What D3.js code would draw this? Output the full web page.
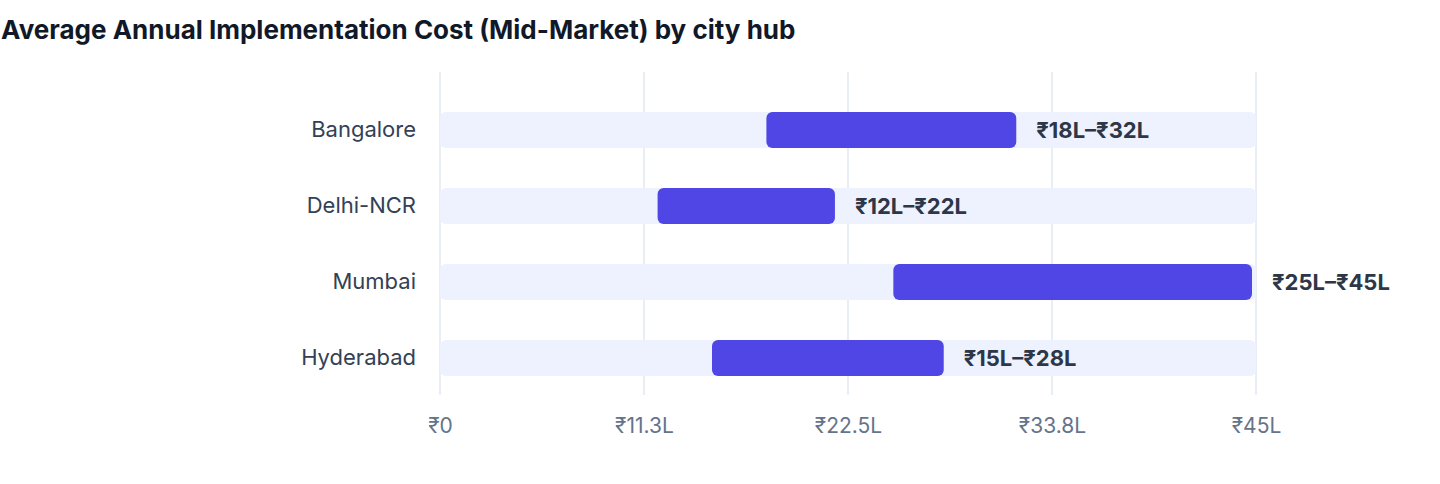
<!DOCTYPE html>
<html lang="en">
<head>
    <meta charset="UTF-8">
    <title>Average Annual Implementation Cost</title>
    <script src="https://cdn.jsdelivr.net/npm/d3@7"></script>
    <style>
        body { margin: 0; background: #fff; font-family: Inter, "Liberation Sans", Arial, sans-serif; }
    </style>
</head>
<body>
<svg id="chart" width="1440" height="484"></svg>
<script>
    // data
    let cities = ['Bangalore', 'Delhi-NCR', 'Mumbai', 'Hyderabad'];
    let lowValues = [18, 12, 25, 15];
    let highValues = [32, 22, 45, 28];
    let tickValues = [0, 11.25, 22.5, 33.75, 45];
    let maxValue = 45;

    let font = 'Inter, "Liberation Sans", Arial, sans-serif';
    let svg = d3.select('svg#chart');
    let plot = {left: 440, right: 1256, top: 72, bottom: 395};

    let xScale = d3.scaleLinear().domain([0, maxValue]).range([plot.left, plot.right]);
    let yScale = d3.scaleBand().domain(cities).range([92, 396]).paddingInner(0.5263).paddingOuter(0.263);

    // title
    svg.append('text')
        .attr('x', 1).attr('y', 39)
        .style('font-family', font)
        .style('font-size', '26px').style('font-weight', 'bold').style('fill', '#111827')
        .text('Average Annual Implementation Cost (Mid-Market) by city hub');

    // gridlines
    svg.append('g').selectAll('line')
        .data(tickValues).enter().append('line')
        .attr('x1', d => xScale(d)).attr('x2', d => xScale(d))
        .attr('y1', plot.top).attr('y2', plot.bottom)
        .style('stroke', '#e2e8f0').style('stroke-width', 1.5);

    // x axis labels
    let fmt = d => d === 0 ? '₹0' : '₹' + (Math.round(d * 10) / 10) + 'L';
    let xAxis = d3.axisBottom(xScale).tickValues(tickValues).tickFormat(fmt).tickSize(0).tickPadding(0);
    let axisG = svg.append('g').attr('transform', 'translate(0,' + 418 + ')').call(xAxis);
    axisG.select('.domain').remove();
    axisG.selectAll('text')
        .style('font-family', font)
        .style('font-size', '21px').style('fill', '#64748b');

    // city labels
    let yAxis = d3.axisLeft(yScale).tickSize(0).tickPadding(24);
    let yG = svg.append('g').attr('transform', 'translate(' + plot.left + ',0)').call(yAxis);
    yG.select('.domain').remove();
    yG.selectAll('text')
        .style('font-family', font)
        .style('font-size', '22px').style('fill', '#334155');

    // tracks
    svg.append('g').selectAll('rect')
        .data(cities).enter().append('rect')
        .attr('x', xScale(0)).attr('y', d => yScale(d))
        .attr('width', xScale(maxValue) - xScale(0)).attr('height', yScale.bandwidth())
        .attr('rx', 6).style('fill', '#eef2ff');

    // range bars
    let endGap = 4;
    svg.append('g').selectAll('rect')
        .data(cities).enter().append('rect')
        .attr('x', (d, i) => xScale(lowValues[i])).attr('y', d => yScale(d))
        .attr('width', (d, i) => xScale(highValues[i]) - xScale(lowValues[i]) - endGap)
        .attr('height', yScale.bandwidth())
        .attr('rx', 6).style('fill', '#4f46e5');

    // value labels
    svg.append('g').selectAll('text')
        .data(cities).enter().append('text')
        .attr('x', (d, i) => xScale(highValues[i]) - endGap + 20)
        .attr('y', d => yScale(d) + yScale.bandwidth() / 2)
        .attr('dy', '0.35em')
        .style('font-family', font)
        .style('font-size', '22px').style('font-weight', 'bold').style('fill', '#2d3748')
        .text((d, i) => '₹' + lowValues[i] + 'L–₹' + highValues[i] + 'L');
</script>
</body>
</html>
